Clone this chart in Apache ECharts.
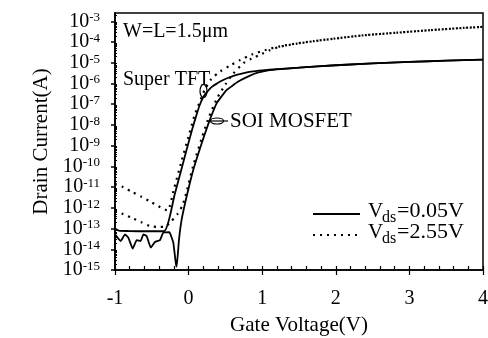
<!DOCTYPE html>
<html>
<head>
<meta charset="utf-8">
<script src="https://cdn.jsdelivr.net/npm/echarts@6/dist/echarts.min.js"></script>
<style>
  html, body { margin: 0; padding: 0; background: #fff; }
  #chart { width: 488px; height: 338px; }
</style>
</head>
<body>
<div id="chart"></div>
<script>
const FONT = '"Liberation Serif", "Times New Roman", serif';

// Gate voltage (V) and log10 of drain current (A)
// Super TFT, Vds = 0.05 V
const vgTftLin = [-1, -0.95, -0.8, -0.6, -0.45, -0.33, -0.185, -0.05, 0.05, 0.1, 0.15, 0.2, 0.26, 0.32, 0.4, 0.47, 0.56, 0.65, 0.75, 0.85, 1.0, 1.2, 1.5, 2.0, 2.5, 3.0, 3.5, 4.0];
const logIdTftLin = [-13.0, -13.1, -13.12, -13.13, -13.13, -13.12, -11.3, -9.5, -8.2, -7.6, -7.05, -6.65, -6.37, -6.15, -5.97, -5.83, -5.7, -5.59, -5.5, -5.43, -5.37, -5.31, -5.24, -5.12, -5.03, -4.96, -4.9, -4.85];

// SOI MOSFET, Vds = 0.05 V
const vgSoiLin = [-1, -0.923, -0.864, -0.819, -0.76, -0.705, -0.651, -0.615, -0.569, -0.515, -0.457, -0.389, -0.344, -0.262, -0.208, -0.175, -0.162, -0.13, -0.094, -0.026, 0.064, 0.178, 0.268, 0.382, 0.518, 0.675, 0.834, 0.95, 1.1, 1.2, 1.5, 2.0, 2.5, 3.0, 3.5, 4.0];
const logIdSoiLin = [-13.28, -13.6, -13.28, -13.44, -13.97, -13.56, -13.6, -13.28, -13.37, -13.92, -13.65, -13.56, -13.2, -13.17, -13.68, -14.64, -14.84, -13.52, -12.56, -11.44, -10.16, -8.88, -7.95, -6.95, -6.31, -5.91, -5.62, -5.47, -5.36, -5.32, -5.24, -5.12, -5.03, -4.96, -4.9, -4.85];

// Super TFT, Vds = 2.55 V
const vgTftSat = [-1, -0.89, -0.76, -0.64, -0.52, -0.41, -0.29, -0.2, -0.1, 0.0, 0.08, 0.15, 0.22, 0.31, 0.43, 0.57, 0.7, 0.86, 1.06, 1.24, 1.47, 1.7, 1.97, 2.37, 2.83, 3.28, 3.73, 4.0];
const logIdTftSat = [-10.85, -11.0, -11.25, -11.47, -11.7, -11.92, -12.12, -11.1, -9.8, -8.55, -7.55, -6.9, -6.3, -5.78, -5.42, -5.12, -4.87, -4.6, -4.37, -4.21, -4.07, -3.96, -3.84, -3.68, -3.55, -3.43, -3.32, -3.27];

// SOI MOSFET, Vds = 2.55 V
const vgSoiSat = [-1, -0.89, -0.76, -0.64, -0.52, -0.41, -0.33, -0.25, -0.15, -0.08, -0.026, 0.064, 0.178, 0.268, 0.382, 0.5, 0.6, 0.743, 0.857, 0.993, 1.1, 1.24, 1.47, 1.7, 1.97, 2.37, 2.83, 3.28, 3.73, 4.0];
const logIdSoiSat = [-12.15, -12.3, -12.5, -12.7, -12.88, -12.92, -12.92, -12.7, -12.3, -11.85, -11.2, -9.95, -8.65, -7.7, -6.75, -6.05, -5.55, -5.03, -4.8, -4.58, -4.4, -4.23, -4.08, -3.96, -3.84, -3.68, -3.55, -3.43, -3.32, -3.27];

// Axis ticks
const xTicks = [-1, 0, 1, 2, 3, 4];
const yDecades = [-15, -14, -13, -12, -11, -10, -9, -8, -7, -6, -5, -4, -3];

// log-spaced minor ticks inside each decade
const yMinor = [];
yDecades.forEach(d => {
  if (d >= -3) return;
  for (let k = 2; k <= 9; k++) yMinor.push(d + Math.log10(k));
});
[2, 3, 4, 5].forEach(k => { const v = -3 + Math.log10(k); if (v < -2.6) yMinor.push(v); });

const zip = (xs, ys) => xs.map((x, i) => [x, ys[i]]);

const chart = echarts.init(document.getElementById('chart'), null, { renderer: 'canvas' });

const solid = { color: '#000', width: 1.8, type: 'solid' };
const dotted = { color: '#000', width: 2.2, type: [2, 5], cap: 'butt' };

const txt = (text, x, y, size) => ({
  type: 'text', x, y, z: 10,
  style: { text, font: size + 'px ' + FONT, fill: '#000', textVerticalAlign: 'middle', verticalAlign: 'middle' }
});

chart.setOption({
  animation: false,
  backgroundColor: '#fff',
  grid: {
    left: 115, right: 5, top: 13, bottom: 68,
    containLabel: false, outerBoundsMode: 'none',
    show: true, borderColor: '#000', borderWidth: 1.5, backgroundColor: 'transparent'
  },
  xAxis: [
    {
      type: 'value', min: -1, max: 4, interval: 1, position: 'bottom',
      axisLine: { show: true, onZero: false, lineStyle: { color: '#000', width: 1.5 } },
      axisTick: { show: true, inside: false, length: 5, lineStyle: { color: '#000', width: 1.2 }, customValues: xTicks },
      axisLabel: { show: true, margin: 19, color: '#000', fontFamily: FONT, fontSize: 20, customValues: xTicks },
      splitLine: { show: false },
      name: 'Gate Voltage(V)', nameLocation: 'middle', nameGap: 45,
      nameTextStyle: { color: '#000', fontFamily: FONT, fontSize: 21 }
    },
    {
      type: 'value', min: -1, max: 4, interval: 0.2, position: 'bottom',
      axisLine: { show: false, onZero: false },
      axisTick: { show: true, inside: true, length: 4, lineStyle: { color: '#000', width: 1.2 } },
      axisLabel: { show: false }, splitLine: { show: false }
    }
  ],
  yAxis: [
    {
      type: 'value', min: -15, max: -2.6, position: 'left',
      axisLine: { show: true, onZero: false, lineStyle: { color: '#000', width: 1.8 } },
      axisTick: { show: true, inside: false, length: 4, lineStyle: { color: '#000', width: 1.5 }, customValues: yDecades },
      axisLabel: {
        show: true, margin: 15, customValues: yDecades,
        formatter: v => '{b|10}{s|' + Math.round(v) + '}',
        rich: {
          b: { fontFamily: FONT, fontSize: 20, color: '#000', lineHeight: 20 },
          s: { fontFamily: FONT, fontSize: 13, color: '#000', verticalAlign: 'top', lineHeight: 13 }
        }
      },
      splitLine: { show: false },
      name: 'Drain Current(A)', nameLocation: 'middle', nameGap: 54, nameRotate: 90,
      nameTextStyle: { color: '#000', fontFamily: FONT, fontSize: 21 }
    },
    {
      type: 'value', min: -15, max: -2.6, position: 'left',
      axisLine: { show: false, onZero: false },
      axisTick: { show: true, inside: true, length: 2, lineStyle: { color: '#000', width: 1 }, customValues: yMinor },
      axisLabel: { show: false }, splitLine: { show: false }
    }
  ],
  series: [
    { name: 'Super TFT 0.05V', type: 'line', data: zip(vgTftLin, logIdTftLin), showSymbol: false, smooth: 0.25, lineStyle: solid, z: 3 },
    { name: 'SOI 0.05V', type: 'line', data: zip(vgSoiLin, logIdSoiLin), showSymbol: false, smooth: 0.1, lineStyle: solid, z: 3 },
    { name: 'Super TFT 2.55V', type: 'line', data: zip(vgTftSat, logIdTftSat), showSymbol: false, smooth: 0.25, lineStyle: dotted, z: 2 },
    { name: 'SOI 2.55V', type: 'line', data: zip(vgSoiSat, logIdSoiSat), showSymbol: false, smooth: 0.25, lineStyle: dotted, z: 2 }
  ],
  graphic: [
    txt('W=L=1.5\u03bcm', 123, 32, 20),
    txt('Super TFT', 123, 80, 20),
    { type: 'ellipse', shape: { cx: 203.5, cy: 91, rx: 3.5, ry: 6.5 }, style: { fill: 'none', stroke: '#000', lineWidth: 1.2 }, z: 10 },
    txt('SOI MOSFET', 230, 121, 21),
    { type: 'ellipse', shape: { cx: 217, cy: 121, rx: 6.5, ry: 3 }, style: { fill: 'none', stroke: '#000', lineWidth: 1.2 }, z: 10 },
    { type: 'line', shape: { x1: 208, y1: 121, x2: 228, y2: 121 }, style: { stroke: '#000', lineWidth: 1.2 }, z: 10 },
    // legend
    { type: 'line', shape: { x1: 313, y1: 214, x2: 360, y2: 214 }, style: { stroke: '#000', lineWidth: 1.8 }, z: 10 },
    { type: 'line', shape: { x1: 313, y1: 235, x2: 360, y2: 235 }, style: { stroke: '#000', lineWidth: 2.2, lineDash: [2, 5] }, z: 10 },
    txt('V', 368, 211, 21),
    txt('ds', 382, 218, 16),
    txt('=0.05V', 397, 211, 22),
    txt('V', 368, 232, 21),
    txt('ds', 382, 239, 16),
    txt('=2.55V', 397, 232, 22)
  ]
});
</script>
</body>
</html>
